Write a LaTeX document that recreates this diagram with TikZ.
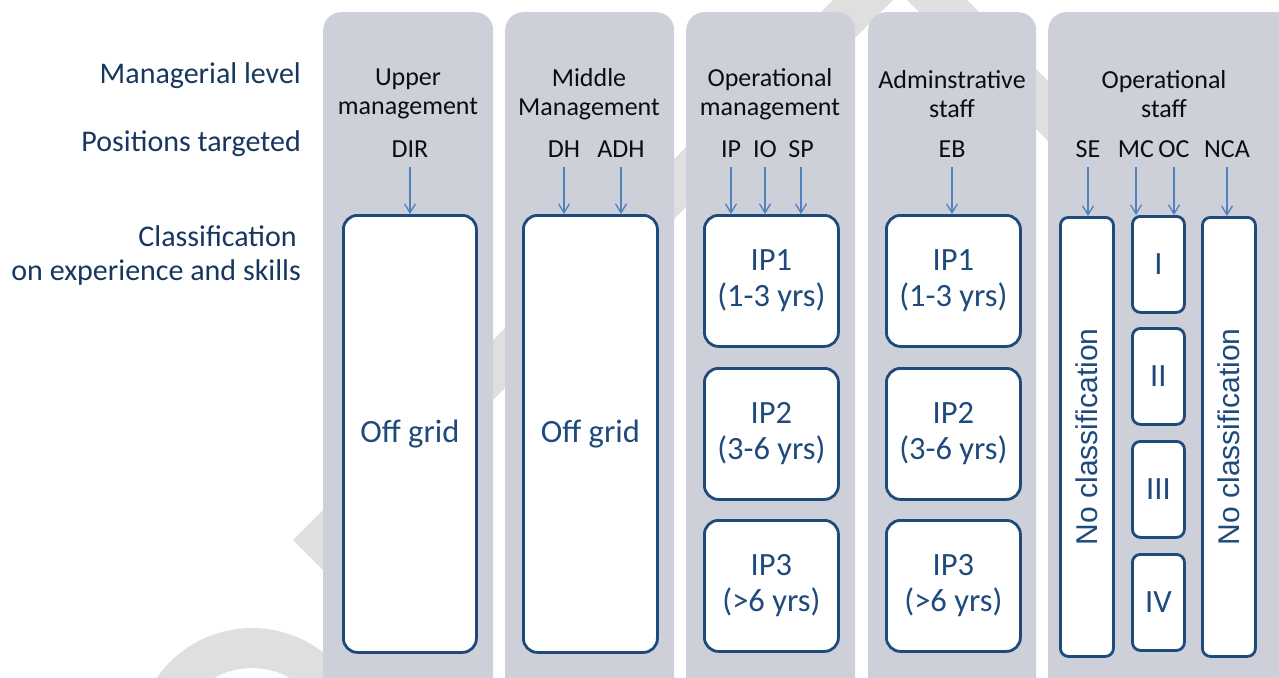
\documentclass[tikz,border=0pt]{standalone}
\usepackage{fontspec}
\setmainfont{Carlito}
\newfontfamily\arialfont{Liberation Sans}
\usetikzlibrary{arrows.meta}
\definecolor{colgrey}{HTML}{CDD0D9}
\definecolor{boxblue}{HTML}{1F4A7C}
\definecolor{navy}{HTML}{17375E}
\definecolor{arrowblue}{HTML}{4F81BD}
\definecolor{wmgrey}{HTML}{DFDFDF}
\definecolor{hdrblack}{HTML}{0D0D0D}

\begin{document}
\begin{tikzpicture}[x=1pt,y=-1pt,
  colbg/.style={fill=colgrey, rounded corners=18pt, anchor=north west,
    inner sep=0pt, minimum height=720pt},
  catbox/.style={draw=boxblue, line width=2.8pt, fill=white, rounded corners=14pt,
    anchor=north west, inner sep=0pt, text=boxblue, align=center,
    font=\fontsize{32.5}{36}\selectfont},
  slimbox/.style={catbox, rounded corners=8pt},
  hdr/.style={align=center, text=hdrblack, inner sep=0pt,
    font=\fontsize{26}{28.5}\selectfont},
  code/.style={text=hdrblack, inner sep=0pt, font=\fontsize{26}{28}\selectfont},
  lab/.style={text=navy, inner sep=0pt, anchor=base east,
    font=\fontsize{30}{34}\selectfont},
  arr/.style={draw=arrowblue, line width=1.3pt,
    -{Straight Barb[length=9pt,width=11pt,line width=1.3pt]}},
  wm/.style={fill=wmgrey}
]
\useasboundingbox (0,0) rectangle (1279,677);
\clip (0,0) rectangle (1279,677);

% background mark
\fill[wm, even odd rule]
  (293,540) -- (900,-67) -- (1507,540) -- (900,1147) -- cycle
  (353,540) -- (900,-7) -- (1447,540) -- (900,1087) -- cycle;
\draw[wmgrey, line width=40pt] (252,744) circle[radius=96];

% row labels
\node[lab] (lvl) at (301,84) {Managerial level};
\node[lab] (pos) at (301,151) {Positions targeted};
\node[lab] (cls1) at (297,246) {Classification};
\node[lab] (cls2) at (301,280) {on experience and skills};

% grey columns
\node[colbg, minimum width=170pt] (c1) at (323,12) {};
\node[colbg, minimum width=169pt] (c2) at (505,12) {};
\node[colbg, minimum width=169pt] (c3) at (686,12) {};
\node[colbg, minimum width=168pt] (c4) at (868,12) {};
\node[colbg, minimum width=260pt] (c5) at (1048,12) {};

% column headers
\node[hdr] (h1) at (408,94) {Upper\\management};
\node[hdr] (h2) at (589,94) {Middle\\Management};
\node[hdr] (h3) at (770,94) {Operational\\management};
\node[hdr] (h4) at (952,94) {Adminstrative\\staff};
\node[hdr] (h5) at (1164,94) {Operational\\staff};

% position codes
\node[code] (dir) at (410,149) {DIR};
\node[code] (dh)  at (564,149) {DH};
\node[code] (adh) at (621,149) {ADH};
\node[code] (ip)  at (731,149) {IP};
\node[code] (io)  at (765,149) {IO};
\node[code] (sp)  at (801,149) {SP};
\node[code] (eb)  at (952,149) {EB};
\node[code] (se)  at (1088,149) {SE};
\node[code] (mc)  at (1136,149) {MC};
\node[code] (oc)  at (1174,149) {OC};
\node[code] (nca) at (1227,149) {NCA};
\coordinate (arrtop) at (0,167);

% classification boxes
\node[catbox, minimum width=133pt, minimum height=437pt] (b1) at (342,214) {Off grid};
\node[catbox, minimum width=134pt, minimum height=437pt] (b2) at (522,214) {Off grid};

\node[catbox, minimum width=134pt, minimum height=131pt] (ip1) at (703,214) {IP1\\(1-3 yrs)};
\node[catbox, minimum width=134pt, minimum height=131pt] (ip2) at (703,367) {IP2\\(3-6 yrs)};
\node[catbox, minimum width=134pt, minimum height=131pt] (ip3) at (703,519) {IP3\\(>6 yrs)};

\node[catbox, minimum width=134pt, minimum height=131pt] (eb1) at (885,214) {IP1\\(1-3 yrs)};
\node[catbox, minimum width=134pt, minimum height=131pt] (eb2) at (885,367) {IP2\\(3-6 yrs)};
\node[catbox, minimum width=134pt, minimum height=131pt] (eb3) at (885,519) {IP3\\(>6 yrs)};

\node[slimbox, minimum width=53pt, minimum height=439pt] (seb) at (1059,216) {};
\node[text=boxblue, rotate=90, font=\arialfont\fontsize{30}{34}\selectfont]
  (setxt) at (seb.center) {No classification};
\node[slimbox, minimum width=52pt, minimum height=96pt] (r1) at (1131,215) {I};
\node[slimbox, minimum width=52pt, minimum height=96pt] (r2) at (1131,327) {II};
\node[slimbox, minimum width=52pt, minimum height=96pt] (r3) at (1131,440) {III};
\node[slimbox, minimum width=52pt, minimum height=96pt] (r4) at (1131,553) {IV};
\node[slimbox, minimum width=53pt, minimum height=439pt] (ncab) at (1201,216) {};
\node[text=boxblue, rotate=90, font=\arialfont\fontsize{30}{34}\selectfont]
  (ncatxt) at (ncab.center) {No classification};

% arrows from codes to boxes
\draw[arr] (dir |- arrtop) -- (dir |- b1.north);
\draw[arr] (dh |- arrtop) -- (dh |- b2.north);
\draw[arr] (adh |- arrtop) -- (adh |- b2.north);
\draw[arr] (ip |- arrtop) -- (ip |- ip1.north);
\draw[arr] (io |- arrtop) -- (io |- ip1.north);
\draw[arr] (sp |- arrtop) -- (sp |- ip1.north);
\draw[arr] (eb |- arrtop) -- (eb |- eb1.north);
\draw[arr] (se |- arrtop) -- (se |- seb.north);
\draw[arr] (mc |- arrtop) -- (mc |- r1.north);
\draw[arr] (oc |- arrtop) -- (oc |- r1.north);
\draw[arr] (nca |- arrtop) -- (nca |- ncab.north);
\end{tikzpicture}
\end{document}
